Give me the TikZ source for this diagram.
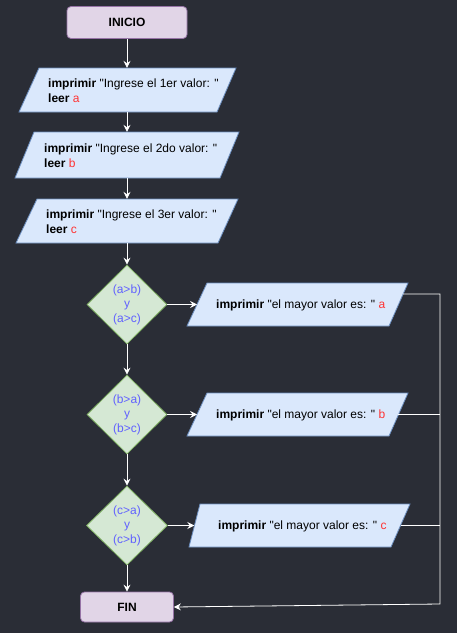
\documentclass[tikz,border=0pt]{standalone}
\usepackage{fontspec}
\setmainfont{Liberation Sans}[Ligatures=TeXOff]
\usetikzlibrary{shapes.geometric,arrows.meta}
\definecolor{bg}{HTML}{2A2D36}
\definecolor{termf}{HTML}{E1D5E7}
\definecolor{termd}{HTML}{9673A6}
\definecolor{iof}{HTML}{DAE8FC}
\definecolor{iod}{HTML}{6C8EBF}
\definecolor{diaf}{HTML}{D5E8D4}
\definecolor{diad}{HTML}{82B366}
\definecolor{redv}{HTML}{FF3333}
\definecolor{bluv}{HTML}{6161FF}
\begin{document}
\begin{tikzpicture}[x=1pt,y=-1pt,
  term/.style={rectangle, rounded corners=4pt, draw=termd, fill=termf, line width=0.8pt,
    font=\bfseries\fontsize{12}{14}\selectfont, inner sep=0pt},
  dia/.style={diamond, draw=diad, fill=diaf, inner sep=0pt, line width=0.8pt},
  iob/.style={draw=iod, fill=iof, line width=0.8pt},
  abox/.style={rectangle, inner sep=0pt, draw=none},
  txt/.style={inner sep=0pt, align=left, anchor=west, font=\fontsize{12}{15}\selectfont},
  ltxt/.style={inner sep=0pt, anchor=base west, font=\fontsize{12}{15}\selectfont},
  dtxt/.style={inner sep=0pt, align=center, text=bluv, font=\fontsize{12}{14.5}\selectfont},
  arr/.style={draw=white, line width=0.8pt, -{Stealth[length=7pt,width=7pt,inset=2.5pt]}},
  ln/.style={draw=white, line width=0.8pt}]
\fill[bg] (0,0) rectangle (457,633);
\useasboundingbox (0,0) rectangle (457,633);

% terminals
\node[term, minimum width=120pt, minimum height=32pt] (ini) at (127,22.5) {INICIO};
\node[term, minimum width=93pt, minimum height=30pt] (fin) at (127,607) {FIN};

% input parallelograms
\draw[iob] (19,112) -- (217,112) -- (236,68) -- (39,68) -- cycle;
\node[abox, minimum width=197.5pt, minimum height=44pt] (p1) at (127,90) {};
\node[txt] (p1t) at (48,90.5) {\textbf{imprimir} "Ingrese el 1er valor: "\\\textbf{leer} \textcolor{redv}{a}};

\draw[iob] (15,178) -- (220,178) -- (239,132) -- (34,132) -- cycle;
\node[abox, minimum width=205pt, minimum height=46pt] (p2) at (127,155) {};
\node[txt] (p2t) at (44,155.5) {\textbf{imprimir} "Ingrese el 2do valor: "\\\textbf{leer} \textcolor{redv}{b}};

\draw[iob] (16,243) -- (218,243) -- (238,199) -- (37,199) -- cycle;
\node[abox, minimum width=201pt, minimum height=44pt] (p3) at (127,221) {};
\node[txt] (p3t) at (46,221.5) {\textbf{imprimir} "Ingrese el 3er valor: "\\\textbf{leer} \textcolor{redv}{c}};

% decisions
\node[dia, minimum width=80pt, minimum height=79pt] (d1) at (127,304.5) {};
\node[dtxt] (d1t) at (127,304.5) {(a>b)\\y\\(a>c)};
\node[dia, minimum width=80pt, minimum height=79pt] (d2) at (127,414.5) {};
\node[dtxt] (d2t) at (127,414.5) {(b>a)\\y\\(b>c)};
\node[dia, minimum width=81pt, minimum height=79pt] (d3) at (127,525.5) {};
\node[dtxt] (d3t) at (127,525.5) {(c>a)\\y\\(c>b)};

% output parallelograms
\draw[iob] (187,326) -- (389,326) -- (408,283) -- (207,283) -- cycle;
\node[abox, minimum width=201pt, minimum height=43pt] (pa) at (297.75,304.5) {};
\node[ltxt] (pat) at (216,308.8) {\textbf{imprimir} "el mayor valor es: " \textcolor{redv}{a}};

\draw[iob] (187,436) -- (389,436) -- (408,393) -- (207,393) -- cycle;
\node[abox, minimum width=201pt, minimum height=43pt] (pb) at (297.75,414.5) {};
\node[ltxt] (pbt) at (216,418.8) {\textbf{imprimir} "el mayor valor es: " \textcolor{redv}{b}};

\draw[iob] (189,547) -- (391,547) -- (410,504) -- (200,504) -- cycle;
\node[abox, minimum width=206pt, minimum height=43pt] (pc) at (297.5,525.5) {};
\node[ltxt] (pct) at (218,529.8) {\textbf{imprimir} "el mayor valor es: " \textcolor{redv}{c}};

% main flow
\draw[arr] (ini.south) -- (p1.north);
\draw[arr] (p1.south) -- (p2.north);
\draw[arr] (p2.south) -- (p3.north);
\draw[arr] (p3.south) -- (d1.north);
\draw[arr] (d1.south) -- (d2.north);
\draw[arr] (d2.south) -- (d3.north);
\draw[arr] (d3.south) -- (fin.north);

\draw[arr] (d1.east) -- (pa.west);
\draw[arr] (d2.east) -- (pb.west);
\draw[arr] (d3.east) -- (pc.west);

% return to FIN
\coordinate (ra) at (403,294);
\coordinate (rr) at (440,294);
\coordinate (rb) at (440,604);
\draw[arr] (ra) -- (rr) -- (rb) -- (fin.east);
\draw[ln] (pb.east) -- (pb.east -| rr);
\draw[ln] (pc.east) -- (pc.east -| rr);
\end{tikzpicture}
\end{document}
